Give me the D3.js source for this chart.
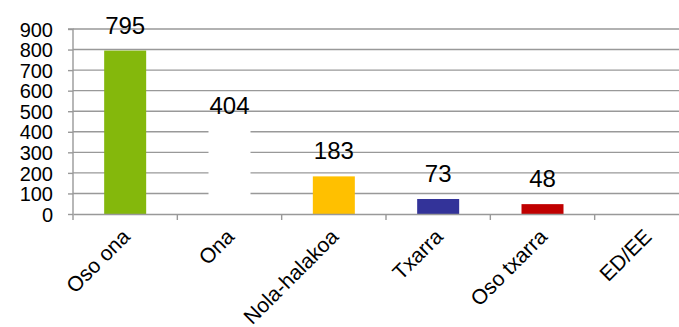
<!DOCTYPE html>
<html><head><meta charset="utf-8">
<script src="https://cdn.jsdelivr.net/npm/d3@7"></script>
<style>body{margin:0;background:#fff}svg{display:block}text{font-family:"Liberation Sans",Arial,sans-serif}</style>
</head><body><svg id="c" width="679" height="327"></svg>
<script>
const categories = ["Oso ona","Ona","Nola-halakoa","Txarra","Oso txarra","ED/EE"];
const values = [795,404,183,73,48,0];
const colors = ["#84b80c","#ffffff","#ffc000","#333399","#c00000","#cccccc"];
const yTicks = [0,100,200,300,400,500,600,700,800,900];

const svg = d3.select("#c");
const x0 = 73, x1 = 699, yTop = 29, yBot = 214;
const x = d3.scaleBand().domain(categories).range([x0,x1]).paddingInner(0).paddingOuter(0);
const y = d3.scaleLinear().domain([0,900]).range([yBot,yTop]);
const grid = "#999";

// gridlines
svg.append("g").selectAll("line").data(yTicks.filter(d=>d>0)).join("line")
  .attr("x1",x0).attr("x2",x1).attr("y1",d=>y(d)).attr("y2",d=>y(d))
  .attr("stroke",grid).attr("stroke-width",1.4);

// y axis
const ya = svg.append("g").attr("transform",`translate(${x0},0)`)
  .call(d3.axisLeft(y).tickValues(yTicks).tickSize(5).tickPadding(15));
ya.attr("font-family",null).attr("font-size",null);
ya.select(".domain").attr("stroke",grid).attr("stroke-width",1.4).attr("d",`M-5,${yTop}H0V${yBot}`);
ya.selectAll(".tick line").attr("stroke",grid).attr("stroke-width",1.4);
ya.selectAll(".tick text").attr("font-size","20px").attr("fill","#000").attr("dy","0.36em");

// bars
const bw = 42;
svg.append("g").selectAll("rect").data(values.map((v,i)=>({c:categories[i],v,col:colors[i]})).filter(d=>d.v>0)).join("rect")
  .attr("x",d=>x(d.c)+x.bandwidth()/2-bw/2).attr("width",bw)
  .attr("y",d=>y(d.v)).attr("height",d=>yBot-y(d.v)).attr("fill",d=>d.col);

// x axis
const xa = svg.append("g").attr("transform",`translate(0,${yBot})`)
  .call(d3.axisBottom(x).tickSize(0).tickFormat(""));
xa.select(".domain").attr("stroke",grid).attr("stroke-width",1.4);
svg.append("g").selectAll("line").data(d3.range(categories.length+1)).join("line")
  .attr("x1",i=>x0+i*x.bandwidth()).attr("x2",i=>x0+i*x.bandwidth())
  .attr("y1",yBot).attr("y2",yBot+6).attr("stroke",grid).attr("stroke-width",1.4);

// x labels
svg.append("g").selectAll("text").data(categories).join("text")
  .attr("transform",d=>`translate(${x(d)+x.bandwidth()/2+6},${yBot+24}) rotate(-45)`)
  .attr("text-anchor","end").attr("font-size","21px").attr("fill","#000").text(d=>d);

// value labels
svg.append("g").selectAll("text").data(values.map((v,i)=>({c:categories[i],v})).filter(d=>d.v>0)).join("text")
  .attr("x",d=>x(d.c)+x.bandwidth()/2).attr("y",d=>y(d.v)-17)
  .attr("text-anchor","middle").attr("font-size","24px").attr("fill","#000").text(d=>d.v);
</script></body></html>
